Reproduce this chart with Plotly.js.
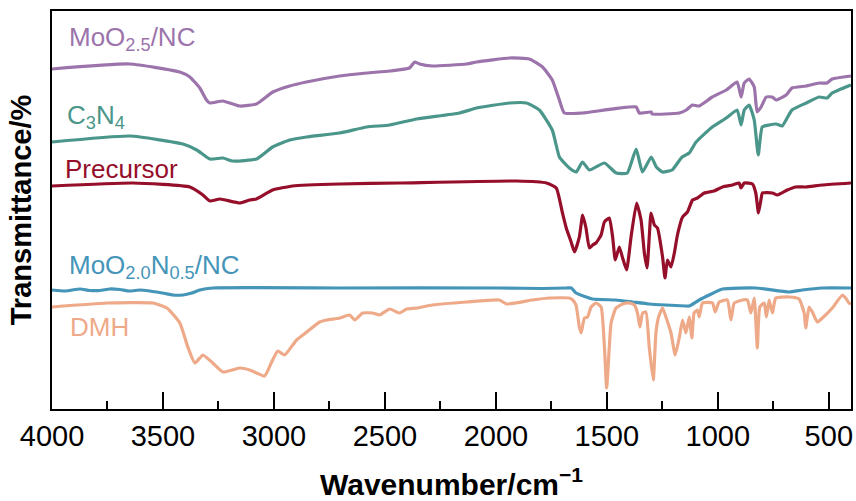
<!DOCTYPE html>
<html>
<head>
<meta charset="utf-8">
<script src="https://cdn.plot.ly/plotly-3.0.1.min.js"></script>
<style>
  html, body { margin: 0; padding: 0; background: #ffffff; }
  #chart { width: 856px; height: 501px; }
</style>
</head>
<body>
<div id="chart"></div>
<script>
// FTIR spectra, wavenumber (cm-1) vs. offset transmittance (arbitrary units)

// MoO2.5/NC
const moo25Wn = [4000, 3649, 3424, 3379, 3334, 3304, 3289, 3230, 3154, 3079, 3005, 2929, 2854, 2704, 2582, 2479, 2389, 2366, 2344, 2286, 2132, 2087, 1939, 1849, 1790, 1746, 1714, 1692, 1610, 1368, 1354, 1300, 1296, 1174, 1142, 1115, 1084, 1025, 962, 913, 895, 881, 859, 836, 823, 805, 782, 755, 737, 692, 666, 602, 544, 508, 485, 400];
const moo25T  = [339, 344, 336, 331, 320, 308, 305, 307, 302, 304, 316, 322, 326, 332, 335, 337, 340, 346, 344, 342, 344, 346, 350, 349, 341, 328, 308, 295, 295, 301, 295, 296, 294, 295, 298, 303, 302, 311, 318, 326, 311, 325, 329, 321, 296, 301, 311, 311, 308, 313, 320, 322, 325, 325, 329, 332];

// C3N4
const c3n4Wn = [4000, 3649, 3410, 3348, 3289, 3230, 3186, 3078, 3006, 2929, 2853, 2704, 2582, 2479, 2357, 2164, 2087, 1939, 1862, 1804, 1746, 1714, 1683, 1669, 1638, 1610, 1579, 1511, 1458, 1408, 1368, 1340, 1300, 1277, 1250, 1206, 1161, 1129, 1098, 1025, 962, 913, 895, 881, 859, 836, 818, 800, 769, 737, 710, 666, 602, 544, 508, 485, 400];
const c3n4T  = [266, 272, 264, 258, 249, 250, 247, 249, 261, 268, 271, 275, 281, 283, 289, 295, 300, 305, 305, 298, 278, 251, 243, 240, 236, 246, 238, 245, 235, 235, 259, 236, 251, 241, 236, 238, 251, 255, 266, 281, 290, 298, 283, 298, 303, 288, 253, 281, 283, 284, 282, 298, 305, 311, 310, 315, 323];

// Precursor
const precWn = [4000, 3636, 3379, 3320, 3289, 3244, 3154, 3109, 3079, 3006, 2916, 2704, 2434, 1907, 1772, 1728, 1700, 1683, 1661, 1646, 1624, 1609, 1594, 1579, 1564, 1549, 1526, 1511, 1489, 1474, 1462, 1444, 1429, 1411, 1391, 1366, 1346, 1331, 1319, 1309, 1301, 1286, 1272, 1249, 1238, 1227, 1211, 1196, 1182, 1159, 1137, 1114, 1092, 1061, 1017, 979, 934, 904, 896, 881, 844, 829, 817, 806, 799, 754, 732, 687, 649, 604, 529, 400];
const precT  = [222, 225, 221, 213, 207, 209, 205, 208, 209, 218, 222, 224, 225, 227, 225, 220, 195, 180, 166, 156, 171, 193, 180, 160, 163, 165, 173, 186, 190, 171, 148, 161, 150, 138, 171, 205, 188, 155, 140, 171, 195, 183, 180, 151, 130, 148, 141, 155, 173, 191, 196, 208, 210, 215, 217, 221, 223, 225, 220, 225, 224, 215, 195, 208, 215, 215, 213, 218, 221, 221, 223, 225];

// MoO2.0N0.5/NC
const moo20Wn = [4000, 3940, 3874, 3830, 3784, 3740, 3694, 3650, 3604, 3560, 3529, 3490, 3456, 3410, 3370, 3334, 3275, 2704, 1984, 1790, 1683, 1660, 1639, 1564, 1459, 1384, 1309, 1234, 1144, 1129, 1084, 1039, 979, 829, 679, 619, 529, 400];
const moo20T  = [118, 117, 119, 117.5, 117.5, 119, 118.5, 117, 118, 117, 116, 114.5, 113, 113, 115, 118, 120, 120, 120, 119.5, 120, 120, 115, 109, 108, 106, 104, 103, 102, 102, 108, 113, 119, 120, 116, 118, 120, 120];

// DMH
const dmhWn = [4000, 3752, 3545, 3482, 3424, 3388, 3356, 3320, 3276, 3230, 3154, 3109, 3078, 3042, 3006, 2983, 2952, 2898, 2852, 2794, 2762, 2704, 2659, 2636, 2600, 2556, 2524, 2479, 2434, 2402, 2357, 2286, 2132, 1984, 1952, 1836, 1759, 1669, 1654, 1639, 1624, 1616, 1601, 1587, 1571, 1549, 1526, 1511, 1501, 1489, 1481, 1459, 1429, 1399, 1376, 1362, 1351, 1339, 1324, 1309, 1291, 1279, 1267, 1249, 1234, 1211, 1192, 1174, 1159, 1144, 1129, 1117, 1107, 1092, 1084, 1069, 1024, 1012, 994, 957, 941, 926, 889, 867, 851, 836, 822, 811, 791, 781, 769, 754, 739, 679, 634, 611, 604, 589, 574, 552, 529, 484, 439, 424, 409, 400];
const dmhT  = [101, 105, 105, 100, 85, 61, 45, 53, 45, 36, 40, 38, 35, 32, 48, 57, 53, 68, 76, 86, 88, 90, 93, 88, 95, 95, 93, 99, 95, 99, 100, 103, 106, 108, 104, 108, 110, 110, 108, 103, 81, 75, 90, 91, 101, 105, 101, 61, 20, 61, 85, 100, 104, 105, 103, 95, 81, 95, 96, 61, 28, 75, 91, 100, 91, 75, 53, 70, 88, 75, 91, 70, 95, 98, 91, 105, 105, 96, 106, 108, 88, 105, 108, 108, 95, 110, 60, 101, 105, 91, 108, 95, 110, 111, 109, 95, 80, 101, 96, 86, 90, 100, 113, 110, 105, 104];

const seriesNames = ['MoO2.5/NC', 'C3N4', 'Precursor', 'MoO2.0N0.5/NC', 'DMH'];
const seriesLabels = ['MoO<sub>2.5</sub>/NC', 'C<sub>3</sub>N<sub>4</sub>', 'Precursor', 'MoO<sub>2.0</sub>N<sub>0.5</sub>/NC', 'DMH'];
const seriesColors = ['#9c74ab', '#4a968a', '#950e2a', '#4595b9', '#eeaa88'];
const seriesX = [moo25Wn, c3n4Wn, precWn, moo20Wn, dmhWn];
const seriesY = [moo25T, c3n4T, precT, moo20T, dmhT];

// label anchor: left edge (paper x) and vertical centre (paper y)
const labelPos = [[0.019, 0.930], [0.016, 0.736], [0.014, 0.603], [0.019, 0.358], [0.020, 0.206]];

const FONT = 'Arial, "Liberation Sans", sans-serif';

const traces = seriesNames.map((n, i) => ({
  type: 'scatter',
  mode: 'lines',
  name: n,
  x: seriesX[i],
  y: seriesY[i],
  line: { color: seriesColors[i], width: 3.2, shape: 'spline', smoothing: 0.45 },
  hoverinfo: 'x+name'
}));

const annotations = seriesLabels.map((t, i) => ({
  xref: 'paper', yref: 'paper',
  x: labelPos[i][0], y: labelPos[i][1],
  xanchor: 'left', yanchor: 'middle',
  text: t,
  showarrow: false,
  font: { family: FONT, size: 26, color: seriesColors[i] }
}));

const layout = {
  width: 856,
  height: 501,
  margin: { l: 52, r: 5, t: 11, b: 92 },
  paper_bgcolor: '#ffffff',
  plot_bgcolor: '#ffffff',
  showlegend: false,
  font: { family: FONT, color: '#000000' },
  xaxis: {
    range: [4000, 400],
    tickmode: 'linear',
    tick0: 0,
    dtick: 500,
    ticks: 'inside',
    ticklen: 17,
    tickwidth: 2,
    tickcolor: '#000000',
    minor: { dtick: 250, tick0: 0, ticks: 'inside', ticklen: 8, tickwidth: 2, tickcolor: '#000000' },
    showline: true,
    linecolor: '#000000',
    linewidth: 2,
    mirror: true,
    showgrid: false,
    zeroline: false,
    tickfont: { family: FONT, size: 29, color: '#000000' },
    title: {
      text: '<b>Wavenumber/cm<sup>\u22121</sup></b>',
      font: { family: FONT, size: 30, color: '#000000' },
      standoff: 28
    }
  },
  yaxis: {
    range: [-1, 397],
    showticklabels: false,
    ticks: '',
    showline: true,
    linecolor: '#000000',
    linewidth: 2,
    mirror: true,
    showgrid: false,
    zeroline: false,
    title: {
      text: '<b>Transmittance/%</b>',
      font: { family: FONT, size: 29, color: '#000000' },
      standoff: 10
    }
  },
  annotations: annotations
};

Plotly.newPlot('chart', traces, layout, { displayModeBar: false, staticPlot: true });
</script>
</body>
</html>
